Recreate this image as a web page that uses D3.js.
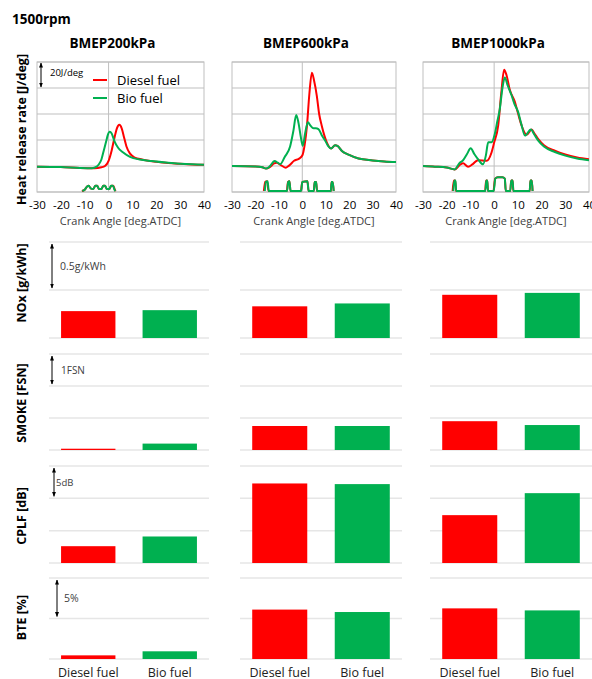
<!DOCTYPE html>
<html>
<head>
<meta charset="utf-8">
<script src="https://cdn.jsdelivr.net/npm/d3@7"></script>
<style>
    body { margin: 0; background: #fff; }
    svg { font-family: "Open Sans", Lato, sans-serif; }
</style>
</head>
<body>
<svg id="chart" width="592" height="679"></svg>
<script>
'use strict';

// ---- data ----
const speedLabel = "1500rpm";
const loadTitles = ["BMEP200kPa", "BMEP600kPa", "BMEP1000kPa"];
const fuels = ["Diesel fuel", "Bio fuel"];
const crankTicks = [-30, -20, -10, 0, 10, 20, 30, 40];
const hrrTicks = [-20, 0, 20, 40, 60, 80];

// heat release rate [J/deg] vs crank angle [deg.ATDC]
const hrrDiesel200 = [[-30, -0.5], [-20, -0.8], [-12, -1.5], [-6, -1.7], [-3, -1], [-1.5, 0], [0, 4], [1.3, 12], [2.5, 22], [3.5, 29], [4.5, 31.7], [5.5, 29], [6.5, 22], [7.5, 15], [9, 9.5], [11, 6.5], [14, 5], [20, 3.3], [25, 2.3], [30, 1.7], [35, 1.2], [40, 0.9]];
const hrrBio200 = [[-30, -0.5], [-20, -0.8], [-12, -1.5], [-7, -1.7], [-5, -0.5], [-4, 1.5], [-3, 5], [-2, 12], [-1, 19], [-0.3, 24], [0.5, 26.3], [1.3, 25], [2.5, 19], [4, 14], [6, 10.5], [9, 7], [13, 5], [18, 3.8], [25, 2.5], [30, 1.8], [35, 1.3], [40, 1]];
const hrrDiesel600 = [[-30, 0], [-20, -0.3], [-17, -1], [-15.5, -2], [-14, -1], [-12, 2], [-11, 2.5], [-9, 0.5], [-7, -1.3], [-5.5, 0.5], [-3.5, 4], [-1.5, 5.5], [0, 8], [1, 16], [2, 31], [3, 55], [4.1, 71.8], [5, 66], [6.2, 54], [7.2, 40], [8.3, 31], [9.5, 23], [10.5, 18], [12.3, 13.5], [14, 16], [15, 15.5], [16.9, 11.6], [20, 8.5], [24, 5.7], [30, 4.3], [35, 3.5], [40, 3]];
const hrrBio600 = [[-30, 0], [-20, -0.3], [-17, -1], [-15.5, -2], [-14, -0.5], [-11.8, 3.9], [-10.5, 2.6], [-9.4, 1.5], [-7.5, 7], [-5.2, 15], [-3.8, 27], [-2.6, 39.3], [-1.6, 33], [-0.6, 22], [0.2, 15.5], [1.2, 25], [2.4, 33.6], [3.5, 31], [4.8, 29], [5.8, 29], [6.9, 28.4], [8.5, 23], [9.8, 19.4], [11, 15.5], [12.3, 13.5], [14, 16], [15, 15.5], [16.9, 11.6], [20, 8.5], [24, 5.7], [30, 4.3], [35, 3.5], [40, 3]];
const hrrDiesel1000 = [[-30, 0], [-25, -0.5], [-20, -1.2], [-16.6, -2.6], [-14.5, 0.8], [-13.1, 2.1], [-11, -0.5], [-9, 1.5], [-6.8, 4.5], [-3.2, 4], [-1.1, 10.4], [0, 18], [1.7, 31], [3, 56], [4.2, 74], [5.2, 70], [6.6, 58.6], [8.7, 49.5], [10, 41], [11.6, 31], [13.7, 24], [15.8, 28], [17, 25], [18.6, 20.7], [21, 16], [25.6, 11.7], [30, 8.8], [35, 6.6], [40, 5.2]];
const hrrBio1000 = [[-30, 0], [-25, -0.5], [-20, -1.2], [-16.6, -2.6], [-14.5, 2.5], [-13.3, 4], [-11.5, 9], [-9.9, 13.6], [-8.3, 9], [-6.8, 5.2], [-4.7, 1.3], [-3.5, 8], [-2.5, 18.2], [-1.1, 18.2], [0.3, 24.8], [1.3, 34], [2.4, 44], [3.5, 60], [4.5, 68], [5.7, 62], [7.3, 54.6], [8.5, 48], [10.1, 41.6], [11.5, 32], [13, 23.4], [15.5, 28], [17, 24], [18.6, 19.5], [21, 15], [25.6, 10.8], [30, 8], [35, 5.8], [40, 4.4]];

// injector needle lift, drawn at the foot of each panel (arbitrary units)
const needleDiesel200 = [[-11.2, 0], [-10, 1], [-9, 3.5], [-8.3, 4], [-7.5, 2], [-6.5, 1.5], [-5.5, 4], [-4.8, 4], [-4, 1.5], [-3, 1.5], [-2.2, 4], [-1.5, 4], [-0.7, 1.5], [0.3, 1.5], [1.2, 4], [2, 4], [2.6, 1], [3, 0]];
const needleBio200 = [[-11, 0], [-10, 1], [-9, 3.5], [-8.3, 4], [-7.5, 2], [-6.5, 1.5], [-5.5, 4], [-4.8, 4], [-4, 1.5], [-3, 1.5], [-2.2, 4], [-1.5, 4], [-0.7, 1.5], [0.3, 1.5], [1, 4], [1.8, 4], [2.5, 1], [2.9, 0]];
const needleDiesel600 = [[-16.4, 0], [-15.8, 7], [-15, 7.5], [-14.4, 0], [-6.6, 0], [-6.1, 7], [-5.5, 7.5], [-5, 0], [-0.6, 0], [0, 7], [2.2, 7.5], [2.7, 0], [4.9, 0], [5.3, 7], [5.9, 7], [6.3, 0], [12.2, 0], [12.5, 7], [13, 7], [13.4, 0]];
const needleBio600 = [[-16, 0], [-15.5, 7], [-14.8, 7.5], [-14.3, 0], [-6.5, 0], [-6, 7], [-5.5, 7.5], [-5, 0], [-0.5, 0], [0, 7], [2.2, 7.5], [2.7, 0], [4.9, 0], [5.3, 7], [5.9, 7], [6.3, 0], [12.2, 0], [12.5, 7], [13, 7], [13.4, 0]];
const needleDiesel1000 = [[-17.5, 0], [-17, 8], [-16.4, 8], [-16.1, 0], [-3.8, 0], [-3.4, 8], [-2.9, 8], [-2.6, 0], [-0.3, 0], [0.4, 9.5], [1.5, 10.5], [3.5, 10.5], [4.5, 9.5], [4.9, 0], [6.8, 0], [7.2, 8], [7.8, 8], [8.1, 0], [15, 0], [15.3, 8], [15.9, 8], [16.2, 0]];
const needleBio1000 = [[-17.2, 0], [-16.8, 8], [-16.3, 8], [-16, 0], [-3.7, 0], [-3.3, 8], [-2.9, 8], [-2.6, 0], [-0.2, 0], [0.5, 9.5], [1.5, 10.5], [3.5, 10.5], [4.5, 9.5], [4.9, 0], [6.8, 0], [7.2, 8], [7.8, 8], [8.1, 0], [15, 0], [15.3, 8], [15.9, 8], [16.2, 0]];

// bar values, one per load (200, 600, 1000 kPa); axis origin is arbitrary in the figure
const noxDiesel = [0.28, 0.33, 0.45];
const noxBio = [0.29, 0.36, 0.47];
const smokeDiesel = [0.04, 0.75, 0.9];
const smokeBio = [0.2, 0.75, 0.78];
const cplfDiesel = [2.6, 12.3, 7.4];
const cplfBio = [4.1, 12.2, 10.8];
const bteDiesel = [0.45, 6.1, 6.25];
const bteBio = [0.95, 5.8, 6.0];

// ---- layout ----
const _red = "#ff0000";
const _green = "#00b050";
const _textColor = "#404040";

const svg = d3.select("#chart");

svg.append("defs").append("marker")
    .attr("id", "arrowHead")
    .attr("viewBox", "0 0 10 10")
    .attr("refX", 9).attr("refY", 5)
    .attr("markerWidth", 5).attr("markerHeight", 5)
    .attr("orient", "auto-start-reverse")
    .append("path")
    .attr("d", "M0,1 L10,5 L0,9 Z")
    .attr("fill", "#000");

svg.append("text")
    .attr("x", 12).attr("y", 24)
    .attr("font-size", 13.5).attr("font-weight", "bold")
    .attr("fill", "#000")
    .text(speedLabel);

const hrrPanels = [
    {x0: 37, x1: 204, diesel: hrrDiesel200, bio: hrrBio200, needleD: needleDiesel200, needleB: needleBio200},
    {x0: 232, x1: 396, diesel: hrrDiesel600, bio: hrrBio600, needleD: needleDiesel600, needleB: needleBio600},
    {x0: 423, x1: 589, diesel: hrrDiesel1000, bio: hrrBio1000, needleD: needleDiesel1000, needleB: needleBio1000}
];
const hrrTop = 62, hrrBottom = 192;

hrrPanels.forEach(function (p, i) {
    drawHrrPanel(p, i);
});

// heat release y label
svg.append("text")
    .attr("transform", "translate(21," + ((hrrTop + hrrBottom) / 2 + 2.5) + ") rotate(-90)")
    .attr("text-anchor", "middle")
    .attr("dominant-baseline", "central")
    .attr("font-size", 12.5).attr("font-weight", "bold")
    .attr("fill", "#000")
    .text("Heat release rate [J/deg]");

function drawHrrPanel(p, i) {
    const x = d3.scaleLinear().domain([-30, 40]).range([p.x0, p.x1]);
    const y = d3.scaleLinear().domain([-20, 80]).range([hrrBottom, hrrTop]);
    const g = svg.append("g");

    // title
    g.append("text")
        .attr("x", (p.x0 + p.x1) / 2 - 8).attr("y", 48)
        .attr("text-anchor", "middle")
        .attr("font-size", 13.5).attr("font-weight", "bold")
        .attr("fill", "#000")
        .text(loadTitles[i]);

    // gridlines
    g.selectAll(".grid").data(hrrTicks).enter().append("line")
        .attr("x1", p.x0).attr("x2", p.x1)
        .attr("y1", function (d) { return y(d); })
        .attr("y2", function (d) { return y(d); })
        .attr("stroke", "#bfbfbf").attr("stroke-width", 1);
    g.append("line")
        .attr("x1", x(0)).attr("x2", x(0))
        .attr("y1", hrrTop).attr("y2", hrrBottom)
        .attr("stroke", "#bfbfbf");
    g.append("rect")
        .attr("x", p.x0).attr("y", hrrTop)
        .attr("width", p.x1 - p.x0).attr("height", hrrBottom - hrrTop)
        .attr("fill", "none").attr("stroke", "#bfbfbf");

    // x axis ticks
    const axis = g.append("g")
        .attr("transform", "translate(0," + hrrBottom + ")")
        .call(d3.axisBottom(x).tickValues(crankTicks).tickSize(0).tickPadding(9));
    axis.select(".domain").remove();
    axis.selectAll("text")
        .attr("font-size", 11.5)
        .attr("font-family", "'Open Sans', sans-serif")
        .attr("fill", "#000")
        .text(function (d) { return d; });

    g.append("text")
        .attr("x", (p.x0 + p.x1) / 2).attr("y", 225)
        .attr("text-anchor", "middle")
        .attr("font-size", 11)
        .attr("fill", _textColor)
        .text("Crank Angle [deg.ATDC]");

    const clipId = "clip" + i;
    g.append("clipPath").attr("id", clipId).append("rect")
        .attr("x", p.x0).attr("y", hrrTop - 2)
        .attr("width", p.x1 - p.x0).attr("height", hrrBottom - hrrTop + 3);

    const line = d3.line()
        .x(function (d) { return x(d[0]); })
        .y(function (d) { return y(d[1]); })
        .curve(d3.curveMonotoneX);
    const needleLine = d3.line()
        .x(function (d) { return x(d[0]); })
        .y(function (d) { return y(-20 + d[1]) - 1; })
        .curve(d3.curveMonotoneX);

    const plot = g.append("g").attr("clip-path", "url(#" + clipId + ")");
    plot.append("path").datum(p.needleD).attr("d", needleLine)
        .attr("fill", "none").attr("stroke", _red).attr("stroke-width", 2);
    plot.append("path").datum(p.needleB).attr("d", needleLine)
        .attr("fill", "none").attr("stroke", _green).attr("stroke-width", 2);
    plot.append("path").datum(p.diesel).attr("d", line)
        .attr("fill", "none").attr("stroke", _red).attr("stroke-width", 2);
    plot.append("path").datum(p.bio).attr("d", line)
        .attr("fill", "none").attr("stroke", _green).attr("stroke-width", 2);

    if (i === 0) {
        // scale arrow + legend
        g.append("line")
            .attr("x1", p.x0 + 4).attr("x2", p.x0 + 4)
            .attr("y1", y(80) + 1).attr("y2", y(60) - 1)
            .attr("stroke", "#000").attr("stroke-width", 1)
            .attr("marker-start", "url(#arrowHead)")
            .attr("marker-end", "url(#arrowHead)");
        g.append("text")
            .attr("x", p.x0 + 13).attr("y", 76)
            .attr("font-size", 9.5).attr("fill", "#000")
            .text("20J/deg");

        const legendItems = [{label: fuels[0], color: _red}, {label: fuels[1], color: _green}];
        legendItems.forEach(function (item, k) {
            const ly = 80 + k * 18;
            g.append("line")
                .attr("x1", 93).attr("x2", 107)
                .attr("y1", ly).attr("y2", ly)
                .attr("stroke", item.color).attr("stroke-width", 2);
            g.append("text")
                .attr("x", 117).attr("y", ly)
                .attr("dominant-baseline", "central")
                .attr("font-size", 13).attr("fill", "#000")
                .text(item.label);
        });
    }
}

// ---- bar rows ----
const barColumns = [[49, 209], [240, 402], [430, 592]];
const barRows = [
    {label: "NOx [g/kWh]", top: 242, bottom: 338, max: 1, step: 0.5, diesel: noxDiesel, bio: noxBio, scale: "0.5g/kWh", ax: 3, tx: 11, fs: 10.5, ly: -7},
    {label: "SMOKE [FSN]", top: 354, bottom: 450, max: 3, step: 1, diesel: smokeDiesel, bio: smokeBio, scale: "1FSN", ax: 3, tx: 12, fs: 10, ly: 1},
    {label: "CPLF [dB]", top: 466, bottom: 563, max: 15, step: 5, diesel: cplfDiesel, bio: cplfBio, scale: "5dB", ax: 5, tx: 7, fs: 9.5, ly: 1.5},
    {label: "BTE [%]", top: 578, bottom: 659, max: 10, step: 5, diesel: bteDiesel, bio: bteBio, scale: "5%", ax: 8, tx: 15, fs: 10.5, ly: -1}
];

barRows.forEach(function (row) {
    drawBarRow(row);
});

function drawBarRow(row) {
    const y = d3.scaleLinear().domain([0, row.max]).range([row.bottom, row.top]);
    const gridValues = d3.range(0, row.max + row.step / 2, row.step);

    svg.append("text")
        .attr("transform", "translate(21," + ((row.top + row.bottom) / 2 + row.ly) + ") rotate(-90)")
        .attr("text-anchor", "middle")
        .attr("dominant-baseline", "central")
        .attr("font-size", 12.5).attr("font-weight", "bold")
        .attr("fill", "#000")
        .text(row.label);

    barColumns.forEach(function (col, c) {
        const x = d3.scaleBand().domain(fuels).range(col).paddingInner(0.333).paddingOuter(0.148);
        const g = svg.append("g");

        g.selectAll(".grid").data(gridValues).enter().append("line")
            .attr("x1", col[0]).attr("x2", col[1])
            .attr("y1", function (d) { return y(d); })
            .attr("y2", function (d) { return y(d); })
            .attr("stroke", "#e6e6e6").attr("stroke-width", 1.5);

        const values = [row.diesel[c], row.bio[c]];
        g.selectAll(".bar").data(values).enter().append("rect")
            .attr("x", function (d, k) { return x(fuels[k]); })
            .attr("width", x.bandwidth())
            .attr("y", function (d) { return y(d); })
            .attr("height", function (d) { return y(0) - y(d); })
            .attr("fill", function (d, k) { return k === 0 ? _red : _green; });

        if (c === 0) {
            g.append("line")
                .attr("x1", col[0] + row.ax).attr("x2", col[0] + row.ax)
                .attr("y1", y(row.max) + 2).attr("y2", y(row.max - row.step) - 2)
                .attr("stroke", "#000").attr("stroke-width", 1)
                .attr("marker-start", "url(#arrowHead)")
                .attr("marker-end", "url(#arrowHead)");
            g.append("text")
                .attr("x", col[0] + row.tx)
                .attr("y", (y(row.max) + y(row.max - row.step)) / 2)
                .attr("dominant-baseline", "central")
                .attr("font-size", row.fs).attr("fill", _textColor)
                .text(row.scale);
        }

        if (row === barRows[barRows.length - 1]) {
            g.selectAll(".cat").data(fuels).enter().append("text")
                .attr("x", function (d) { return x(d) + x.bandwidth() / 2; })
                .attr("y", 677)
                .attr("text-anchor", "middle")
                .attr("font-size", 12.5).attr("fill", "#222")
                .text(function (d) { return d; });
        }
    });
}
</script>
</body>
</html>
